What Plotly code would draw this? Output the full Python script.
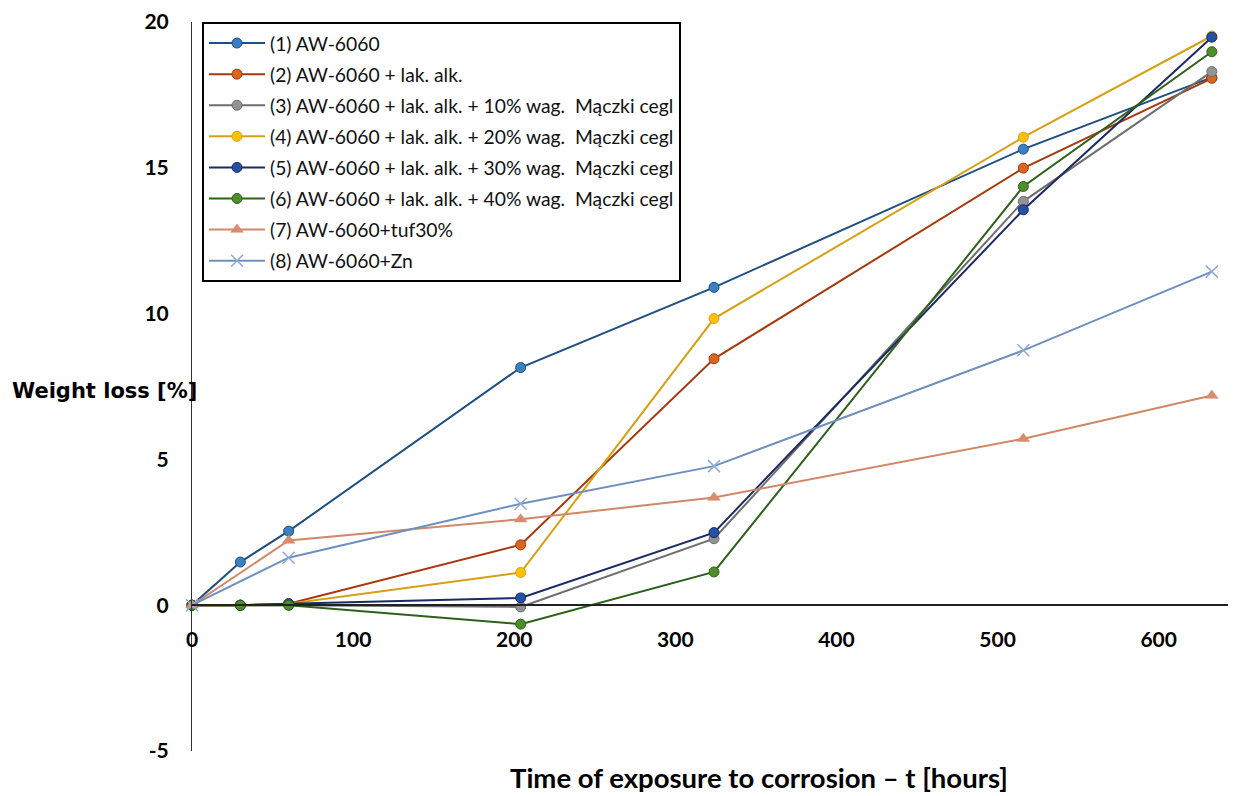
import plotly.graph_objects as go

# ---- data ----
hours_full = [0, 30, 60, 204, 324, 516, 633]
hours_short = [0, 60, 204, 324, 516, 633]

s1 = [0, 1.48, 2.54, 8.15, 10.9, 15.64, 18.1]
s2 = [0, 0.0, 0.05, 2.07, 8.45, 14.99, 18.07]
s3 = [0, 0.0, 0.0, -0.06, 2.28, 13.85, 18.3]
s4 = [0, 0.0, 0.05, 1.12, 9.83, 16.05, 19.52]
s5 = [0, 0.0, 0.05, 0.25, 2.49, 13.56, 19.48]
s6 = [0, 0.0, 0.0, -0.65, 1.14, 14.36, 18.98]
s7 = [0, 2.22, 2.95, 3.69, 5.71, 7.19]
s8 = [0, 1.63, 3.48, 4.77, 8.74, 11.44]

names = [
    "(1) AW-6060",
    "(2) AW-6060 + lak. alk.",
    "(3) AW-6060 + lak. alk. + 10% wag.  Mączki cegl",
    "(4) AW-6060 + lak. alk. + 20% wag.  Mączki cegl",
    "(5) AW-6060 + lak. alk. + 30% wag.  Mączki cegl",
    "(6) AW-6060 + lak. alk. + 40% wag.  Mączki cegl",
    "(7) AW-6060+tuf30%",
    "(8) AW-6060+Zn",
]
x_ticks = [0, 100, 200, 300, 400, 500, 600]
y_ticks = [-5, 0, 5, 10, 15, 20]

line_colors = ["#1F4E82", "#A8390C", "#6E6E6E", "#D6A012", "#1A2A63", "#2D6119", "#D08868", "#6F8FBE"]
marker_colors = ["#3A80C2", "#D9651F", "#939393", "#FFC107", "#2450A8", "#4E8C2C", "#D98C6E", "#8FAAD6"]
marker_symbols = ["circle"] * 6 + ["triangle-up", "x-thin"]

series = [
    (hours_full, s1), (hours_full, s2), (hours_full, s3), (hours_full, s4),
    (hours_full, s5), (hours_full, s6), (hours_short, s7), (hours_short, s8),
]

fig = go.Figure()
for i, (xs, ys) in enumerate(series):
    sym = marker_symbols[i]
    if sym == "x-thin":
        marker = dict(symbol=sym, size=12, color=marker_colors[i],
                      line=dict(width=1.5, color=marker_colors[i]))
    elif sym == "triangle-up":
        marker = dict(symbol=sym, size=11, color=marker_colors[i],
                      line=dict(width=0.5, color=line_colors[i]))
    else:
        marker = dict(symbol=sym, size=10, color=marker_colors[i],
                      line=dict(width=1, color=line_colors[i]))
    fig.add_trace(go.Scatter(
        x=xs, y=ys, mode="lines+markers", name=names[i],
        line=dict(color=line_colors[i], width=2),
        marker=marker, cliponaxis=False, legendgroup=f"g{i}",
    ))

# page body has an 8px margin: figure is 8px smaller, left/top margins reduced by 8
fig.update_layout(
    width=1228, height=788,
    margin=dict(l=184, r=0, t=14, b=45),
    paper_bgcolor="white", plot_bgcolor="white",
    showlegend=True,
    legend=dict(
        x=0.0096, y=1, xanchor="left", yanchor="top",
        bordercolor="black", borderwidth=2, bgcolor="white",
        font=dict(family="Lato", size=19.3, color="#111"),
        itemwidth=56, tracegroupgap=3, traceorder="grouped",
    ),
    xaxis=dict(
        range=[0, 648], tickvals=x_ticks, ticktext=[str(v) for v in x_ticks],
        showgrid=False, zeroline=False, showline=True, linecolor="#222", linewidth=1.5,
        anchor="free", position=0.2, ticks="", ticklabelstandoff=16,
        tickfont=dict(family="Lato", size=21, color="black", weight="bold"),
    ),
    yaxis=dict(
        range=[-5, 20], tickvals=y_ticks, ticktext=[str(v) for v in y_ticks],
        showgrid=False, zeroline=False, showline=True, linecolor="#333", linewidth=1,
        ticks="", ticklabelstandoff=18,
        tickfont=dict(family="Lato", size=21, color="black", weight="bold"),
    ),
    annotations=[
        dict(text="<b>Weight loss [%]</b>", xref="paper", yref="y",
             x=-0.1743, y=7.33, xanchor="left", yanchor="middle", showarrow=False,
             font=dict(family="DejaVu Sans", size=21, color="black")),
        dict(text="<b>Time of exposure to corrosion – t [hours]</b>", xref="paper", yref="paper",
             x=0.543, y=-0.037, xanchor="center", yanchor="middle", showarrow=False,
             font=dict(family="Lato", size=27.5, color="black")),
    ],
)

fig.write_html("out.html")
